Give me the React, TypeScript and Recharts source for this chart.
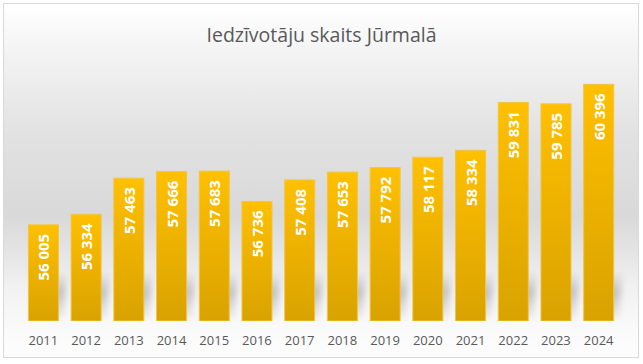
import { BarChart, Bar, XAxis, YAxis, LabelList } from 'recharts'

const years = ['2011', '2012', '2013', '2014', '2015', '2016', '2017', '2018', '2019', '2020', '2021', '2022', '2023', '2024']
const population = [56005, 56334, 57463, 57666, 57683, 56736, 57408, 57653, 57792, 58117, 58334, 59831, 59785, 60396]
const valueDomain = [53000, 61000]

const data = years.map((year, i) => ({ year, value: population[i] }))

const fmt = (v: number) => v.toLocaleString('en-US').replace(',', ' ')

function ShadowBar(props: any) {
  const { x, y, width, height } = props
  const bottom = y + height
  return (
    <g>
      <polygon
        points={`${x + 4},${bottom - 3} ${x + width + 5},${bottom - 3} ${x + width + 9},${bottom - 50} ${x + 8},${bottom - 50}`}
        fill="url(#shadowGrad)"
        filter="url(#shadowBlur)"
      />
      <rect x={x} y={y} width={width} height={height} fill="url(#barGrad)" stroke="#f3c442" strokeWidth={1} />
    </g>
  )
}

function ValueLabel(props: any) {
  const { x, y, width, value } = props
  const cx = x + width / 2
  const ty = y + 9
  return (
    <text
      x={cx}
      y={ty}
      transform={`rotate(-90, ${cx}, ${ty})`}
      textAnchor="end"
      dominantBaseline="central"
      fill="#ffffff"
      fontSize={15}
      fontWeight="bold"
      fontFamily="'Open Sans', sans-serif"
    >
      {fmt(value)}
    </text>
  )
}

function YearTick(props: any) {
  const { x, y, payload } = props
  return (
    <text x={x} y={y + 11} textAnchor="middle" dominantBaseline="central" fill="#595959" fontSize={13} fontFamily="'Open Sans', sans-serif">
      {payload.value}
    </text>
  )
}

export default function App() {
  return (
    <div style={{ position: 'fixed', left: 0, top: 0, width: 643, height: 364, background: '#fff' }}>
      <div
        style={{
          position: 'absolute',
          left: 3,
          top: 3,
          width: 634,
          height: 353,
          border: '1px solid #d9d9d9',
          background:
            'linear-gradient(to bottom, #ffffff 0%, #f3f3f3 14%, #e1e1e1 38%, #d9d9d9 60%, #e4e4e4 70%, #f1f1f1 80%, #fafafa 92%, #fdfdfd 100%)',
        }}
      />
      <div
        style={{
          position: 'absolute',
          left: 0,
          top: 21,
          width: 643,
          textAlign: 'center',
          fontFamily: "'Open Sans', sans-serif",
          fontSize: 19.5,
          color: '#595959',
        }}
      >
        Iedzīvotāju skaits Jūrmalā
      </div>
      <div style={{ position: 'absolute', left: 0, top: 0 }}>
        <BarChart width={643} height={364} data={data} margin={{ top: 65, right: 23, left: 22, bottom: 0 }} barCategoryGap="15%">
          <defs>
            <linearGradient id="barGrad" x1="0" y1="0" x2="0" y2="1">
              <stop offset="0%" stopColor="#ffc000" />
              <stop offset="100%" stopColor="#d9a200" />
            </linearGradient>
            <linearGradient id="shadowGrad" x1="0" y1="0" x2="0" y2="1">
              <stop offset="0%" stopColor="#b4b4b4" stopOpacity={0} />
              <stop offset="45%" stopColor="#b4b4b4" stopOpacity={0.8} />
              <stop offset="100%" stopColor="#cccccc" stopOpacity={0.3} />
            </linearGradient>
            <filter id="shadowBlur" x="-50%" y="-50%" width="200%" height="200%">
              <feGaussianBlur stdDeviation="3" />
            </filter>
          </defs>
          <XAxis dataKey="year" axisLine={false} tickLine={false} height={43} interval={0} tick={<YearTick />} />
          <YAxis hide domain={valueDomain} allowDataOverflow />
          <Bar dataKey="value" shape={<ShadowBar />} isAnimationActive={false}>
            <LabelList dataKey="value" content={<ValueLabel />} />
          </Bar>
        </BarChart>
      </div>
    </div>
  )
}
